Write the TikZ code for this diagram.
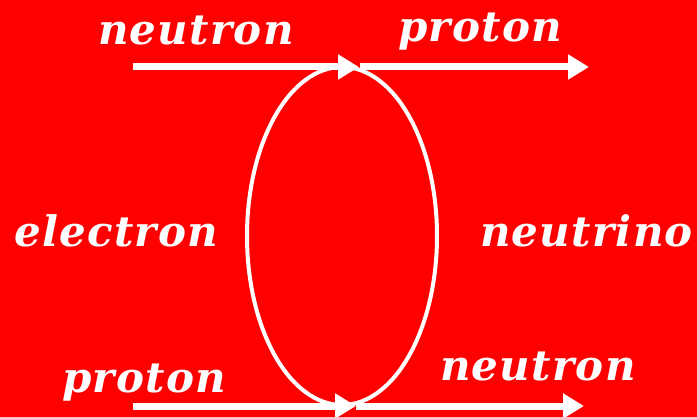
\documentclass[tikz,border=0pt]{standalone}
\usepackage{fontspec}
\setmainfont{DejaVu Serif}
\newfontfamily\labelfont[LetterSpace=3]{DejaVu Serif}
\usetikzlibrary{arrows.meta}
\definecolor{bgred}{HTML}{FF0000}
\tikzset{
  flow/.style={draw=white, line width=7pt, -{Triangle[length=21pt,width=24pt]}},
  lbl/.style={text=white, anchor=base west, inner sep=0pt, font=\labelfont\bfseries\itshape\fontsize{42}{42}\selectfont},
  loopline/.style={draw=white, line width=4pt}
}
\begin{document}
\begin{tikzpicture}[x=1pt,y=-1pt]
\fill[bgred] (0,0) rectangle (697,417);
\useasboundingbox (0,0) rectangle (697,417);
\coordinate (tl) at (133,67);
\coordinate (tm) at (359,67);
\coordinate (tm2) at (360,67);
\coordinate (tr) at (589,67);
\coordinate (bl) at (133,406);
\coordinate (bm) at (356,406);
\coordinate (br) at (584,406);
\coordinate (c) at (342,236);
\draw[loopline] (c) ellipse [x radius=95, y radius=169];
\draw[flow] (tl) -- (tm);
\draw[flow] (tm2) -- (tr);
\draw[flow] (bl) -- (bm);
\draw[flow] (bm) -- (br);
\node[lbl] (n1) at (98,45) {neutron};
\node[lbl] (p1) at (398,42) {proton};
\node[lbl] (e) at (14,247) {electron};
\node[lbl] (nu) at (480,247) {neutrino};
\node[lbl] (p2) at (62,392) {proton};
\node[lbl] (n2) at (440,380) {neutron};
\end{tikzpicture}
\end{document}
